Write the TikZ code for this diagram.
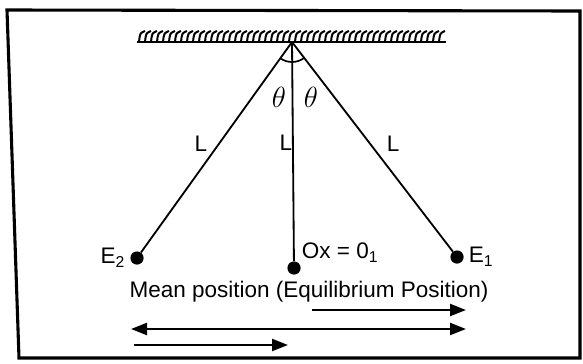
\documentclass[tikz,border=0pt]{standalone}
\usepackage{amsmath}
\usepackage{fontspec}
\setmainfont{Liberation Sans}
\usepackage{tikz}
\usetikzlibrary{calc,angles,arrows.meta}

\tikzset{
    bob/.style={fill,circle,inner sep=0pt,minimum size=0.33cm},
    lbl/.style={font=\fontsize{16}{18}\selectfont},
    swing/.style={line width=1.6pt,-{Triangle[length=0.4cm,width=0.3cm]}},
}

\begin{document}
\begin{tikzpicture}[x=0.025cm,y=-0.025cm]
        \useasboundingbox (0,0) rectangle (583,363);
        % Frame
        \draw[line width=2.2pt] (7,10) -- (580,11) -- (580,358) -- (19,358) -- cycle;

        % Support
        \draw[line width=1.3pt] (137,42) -- (446,42);
        \foreach \x in {139,145,...,439}
            \draw[line width=1.4pt] (\x,42) .. controls (\x+1,33) .. (\x+6,31);
        \coordinate (O) at (292,42);

        % Bobs
        \node[bob] (m) at (294,268) {};
        \node[bob] (e2) at (137,258) {};
        \node[bob] (e1) at (457,257) {};

        % Strings
        \draw[line width=1.3pt] (O) -- (m);
        \draw[line width=1.3pt] (O) -- (e2);
        \draw[line width=1.3pt] (O) -- (e1);

        % Angle arc
        \pic[draw, line width=1.2pt, angle radius=0.5cm] {angle = e2--O--e1};
        \node[lbl, font=\fontsize{20}{22}\selectfont] (t1) at (279,97) {$\theta$};
        \node[lbl, font=\fontsize{20}{22}\selectfont] (t2) at (311,97) {$\theta$};

        % Lengths
        \node[lbl] (l2) at (201,144) {L};
        \node[lbl] (lm) at (286,143) {L};
        \node[lbl] (l1) at (393,144) {L};

        % Labels of bobs
        \node[lbl, left=0pt] (ne2) at (e2.west) {E\textsubscript{2}};
        \node[lbl, right=0pt] (ne1) at (e1.east) {E\textsubscript{1}};
        \node[lbl, anchor=south west] (nm) at (297,267) {Ox = 0\textsubscript{1}};
        \node[lbl] (mean) at (309,292) {Mean position (Equilibrium Position)};

        % Direction arrows
        \coordinate (a1) at (312,310);
        \coordinate (b1) at (466,310);
        \coordinate (a2) at (131,329);
        \coordinate (b2) at (466,329);
        \coordinate (a3) at (134,345);
        \coordinate (b3) at (288,345);
        \draw[swing] (a1) -- (b1);
        \draw[swing,{Triangle[length=0.4cm,width=0.3cm]}-{Triangle[length=0.4cm,width=0.3cm]}] (a2) -- (b2);
        \draw[swing] (a3) -- (b3);
    \end{tikzpicture}
\end{document}
